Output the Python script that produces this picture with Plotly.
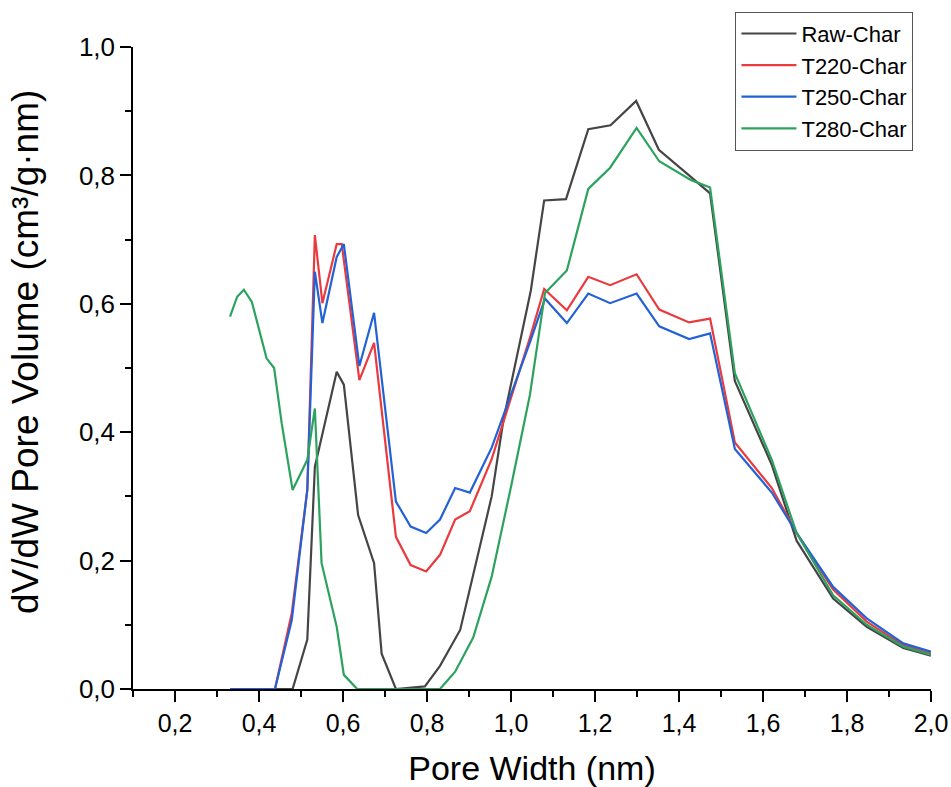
import plotly.graph_objects as go

# ---- data ----
raw_x = [0.331, 0.436, 0.480, 0.515, 0.533, 0.585, 0.602, 0.636, 0.674, 0.692, 0.726, 0.795, 0.831,
         0.879, 0.954, 0.982, 1.047, 1.079, 1.131, 1.184, 1.237, 1.298, 1.352, 1.424, 1.474, 1.533,
         1.621, 1.680, 1.767, 1.847, 1.934, 2.000]
raw_y = [0.0, 0.0, 0.0, 0.077, 0.346, 0.494, 0.474, 0.271, 0.196, 0.055, 0.0, 0.004, 0.036,
         0.092, 0.300, 0.419, 0.620, 0.761, 0.763, 0.872, 0.878, 0.916, 0.840, 0.800, 0.772, 0.480,
         0.349, 0.231, 0.141, 0.097, 0.064, 0.052]

t220_x = [0.331, 0.438, 0.478, 0.515, 0.533, 0.551, 0.585, 0.597, 0.639, 0.674, 0.726, 0.761, 0.798,
          0.831, 0.867, 0.902, 0.954, 1.000, 1.045, 1.079, 1.133, 1.184, 1.236, 1.299, 1.353, 1.424,
          1.474, 1.533, 1.621, 1.680, 1.767, 1.847, 1.934, 2.000]
t220_y = [0.0, 0.0, 0.118, 0.310, 0.707, 0.601, 0.693, 0.693, 0.481, 0.539, 0.237, 0.193, 0.183,
          0.209, 0.264, 0.277, 0.358, 0.454, 0.547, 0.623, 0.590, 0.642, 0.629, 0.646, 0.591, 0.571,
          0.577, 0.384, 0.313, 0.243, 0.155, 0.105, 0.068, 0.055]

t250_x = [0.331, 0.438, 0.478, 0.515, 0.533, 0.551, 0.585, 0.602, 0.639, 0.674, 0.726, 0.761, 0.798,
          0.831, 0.867, 0.902, 0.954, 1.000, 1.045, 1.081, 1.133, 1.184, 1.236, 1.299, 1.353, 1.424,
          1.474, 1.533, 1.621, 1.680, 1.767, 1.847, 1.934, 2.000]
t250_y = [0.0, 0.0, 0.107, 0.310, 0.650, 0.570, 0.673, 0.693, 0.503, 0.586, 0.292, 0.253, 0.243,
          0.264, 0.313, 0.306, 0.376, 0.458, 0.540, 0.608, 0.570, 0.616, 0.601, 0.616, 0.565, 0.545,
          0.554, 0.374, 0.306, 0.243, 0.159, 0.110, 0.071, 0.058]

t280_x = [0.331, 0.348, 0.364, 0.383, 0.418, 0.436, 0.454, 0.480, 0.515, 0.533, 0.549, 0.585, 0.602,
          0.634, 0.831, 0.867, 0.910, 0.954, 1.000, 1.045, 1.081, 1.133, 1.184, 1.236, 1.299, 1.353,
          1.428, 1.474, 1.533, 1.621, 1.680, 1.767, 1.847, 1.934, 2.000]
t280_y = [0.580, 0.611, 0.622, 0.603, 0.515, 0.500, 0.414, 0.310, 0.357, 0.437, 0.196, 0.097, 0.022,
          0.0, 0.0, 0.027, 0.080, 0.175, 0.315, 0.458, 0.617, 0.652, 0.779, 0.812, 0.874, 0.822,
          0.793, 0.781, 0.492, 0.357, 0.243, 0.146, 0.100, 0.066, 0.053]

series = [
    ("Raw-Char", raw_x, raw_y, "#454545"),
    ("T220-Char", t220_x, t220_y, "#ea3a3e"),
    ("T250-Char", t250_x, t250_y, "#2362d6"),
    ("T280-Char", t280_x, t280_y, "#2ca25f"),
]

x_ticks = [0.2, 0.4, 0.6, 0.8, 1.0, 1.2, 1.4, 1.6, 1.8, 2.0]
y_ticks = [0.0, 0.2, 0.4, 0.6, 0.8, 1.0]

FONT = "Liberation Sans, Arial, sans-serif"

fig = go.Figure()
for name, xs, ys, col in series:
    fig.add_trace(go.Scatter(x=xs, y=ys, mode="lines", name=name,
                             line=dict(color=col, width=2.2)))

fig.update_layout(
    width=951, height=787,
    margin=dict(l=133, r=20, t=47, b=98, autoexpand=False),
    paper_bgcolor="white", plot_bgcolor="white",
    separators=",.",
    font=dict(family=FONT, color="black"),
    showlegend=True,
    legend=dict(x=0.978, y=1.055, xanchor="right", yanchor="top",
                bgcolor="white", bordercolor="#555555", borderwidth=1,
                font=dict(size=22, family=FONT), itemwidth=55,
                tracegroupgap=0),
    annotations=[dict(text="dV/dW Pore Volume (cm³/g·nm)", textangle=-90,
                      xref="paper", yref="paper", x=-0.134, y=0.525,
                      xanchor="center", yanchor="middle", showarrow=False,
                      font=dict(size=37, family=FONT))],
)
fig.update_xaxes(
    range=[0.1, 2.0], tickvals=x_ticks, tickformat=".1f", automargin=False,
    showgrid=False, zeroline=False,
    showline=True, linecolor="black", linewidth=1.5,
    ticks="outside", ticklen=11, tickwidth=1.5, tickcolor="black",
    minor=dict(dtick=0.1, ticks="outside", ticklen=6, tickwidth=1.5, tickcolor="black", tick0=0.1),
    tickfont=dict(size=25, family=FONT),
    title=dict(text="Pore Width (nm)", font=dict(size=34, family=FONT), standoff=20),
)
fig.update_yaxes(
    range=[0.0, 1.0], tickvals=y_ticks, tickformat=".1f", automargin=False,
    showgrid=False, zeroline=False,
    showline=True, linecolor="black", linewidth=1.5,
    ticks="outside", ticklen=11, tickwidth=1.5, tickcolor="black",
    minor=dict(dtick=0.1, ticks="outside", ticklen=6, tickwidth=1.5, tickcolor="black"),
    tickfont=dict(size=26, family=FONT),
)

fig.write_html("out.html")
